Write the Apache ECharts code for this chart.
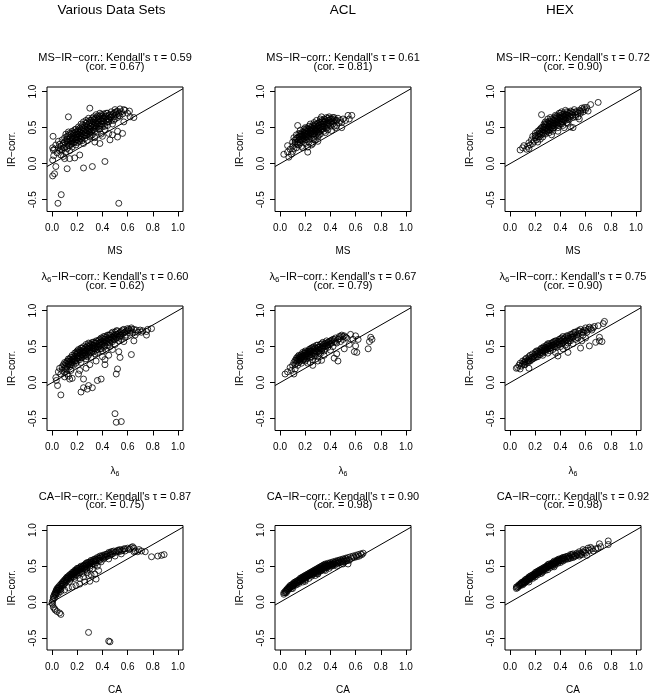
<!DOCTYPE html>
<html><head><meta charset="utf-8">
<script src="https://cdn.jsdelivr.net/npm/echarts@6/dist/echarts.min.js"></script>
<style>html,body{margin:0;padding:0;background:#fff}#c{width:652px;height:697px}</style>
</head><body><div id="c"></div><script>
const colHeaders = ['Various Data Sets', 'ACL', 'HEX'];
const rowVars = ['MS', 'λ6', 'CA'];
const tau = [[0.59, 0.61, 0.72], [0.60, 0.67, 0.75], [0.87, 0.90, 0.92]];
const cor = [[0.67, 0.81, 0.90], [0.62, 0.79, 0.90], [0.75, 0.98, 0.98]];
const xTicks = [0, 0.2, 0.4, 0.6, 0.8, 1.0];
const yTicks = [-0.5, 0, 0.5, 1.0];
const refLine = [[-0.04, -0.04], [1.04, 1.04]];

const msVarious = [
[0.047,-0.55],[0.073,-0.43],[0.53,-0.55],[0.42,0.03],[0.25,-0.06],[0.32,-0.04],[0.12,-0.07],[0.005,-0.17],[0.02,-0.14],[0.03,-0.04],[0.005,0.05],[0.013,0.11],[0.005,0.22],[0.01,0.19],[0.008,0.38],[0.13,0.65],[0.30,0.77],[0.62,0.65],[0.65,0.64],[0.615,0.73],[0.57,0.75],[0.56,0.42],[0.52,0.37],[0.46,0.33],[0.38,0.28],[0.18,0.08],[0.10,0.07],[0.14,0.07],[0.22,0.12],
[0.02,0.2],[0.03,0.26],[0.04,0.15],[0.05,0.22],[0.05,0.31],[0.06,0.18],[0.06,0.27],
[0.07,0.12],[0.07,0.24],[0.08,0.33],[0.08,0.19],[0.09,0.28],[0.09,0.1],[0.1,0.22],[0.1,0.36],[0.1,0.3],[0.11,0.41],
[0.11,0.16],[0.12,0.27],[0.12,0.34],[0.12,0.21],[0.13,0.39],[0.13,0.3],[0.13,0.44],[0.14,0.25],[0.14,0.35],[0.14,0.18],[0.15,0.31],[0.15,0.41],[0.15,0.37],
[0.16,0.28],[0.16,0.45],[0.16,0.23],[0.17,0.34],[0.17,0.39],[0.18,0.3],[0.18,0.43],[0.18,0.36],[0.19,0.26],[0.19,0.48],[0.19,0.4],[0.2,0.33],[0.2,0.37],[0.2,0.45],[0.2,0.29],
[0.21,0.41],[0.21,0.51],[0.21,0.36],[0.22,0.31],[0.22,0.44],[0.22,0.39],[0.23,0.47],[0.23,0.34],[0.23,0.55],[0.24,0.42],[0.24,0.37],[0.24,0.5],[0.25,0.45],[0.25,0.28],[0.25,0.4],[0.25,0.58],
[0.26,0.35],[0.26,0.48],[0.26,0.53],[0.27,0.43],[0.27,0.39],[0.27,0.6],[0.28,0.46],[0.28,0.51],[0.28,0.32],[0.29,0.55],[0.29,0.41],[0.29,0.63],[0.3,0.48],[0.3,0.37],[0.3,0.52],[0.3,0.57],
[0.31,0.44],[0.31,0.6],[0.32,0.5],[0.32,0.55],[0.32,0.4],[0.33,0.65],[0.33,0.47],[0.33,0.58],[0.34,0.53],[0.34,0.36],[0.34,0.62],[0.35,0.49],[0.35,0.56],[0.35,0.68],
[0.36,0.44],[0.36,0.6],[0.37,0.52],[0.37,0.65],[0.37,0.57],[0.38,0.48],[0.38,0.7],[0.38,0.62],[0.39,0.55],[0.39,0.41],[0.4,0.59],[0.4,0.66],[0.4,0.51],
[0.41,0.63],[0.41,0.69],[0.42,0.56],[0.42,0.47],[0.43,0.66],[0.43,0.6],[0.44,0.53],[0.44,0.7],[0.45,0.62],[0.45,0.58],[0.45,0.67],
[0.46,0.64],[0.47,0.72],[0.47,0.6],[0.48,0.68],[0.48,0.55],[0.49,0.65],[0.5,0.71],[0.5,0.62],[0.5,0.75],
[0.51,0.68],[0.52,0.73],[0.52,0.64],[0.53,0.7],[0.54,0.76],[0.54,0.66],[0.55,0.72],[0.56,0.69],
[0.34,0.3],[0.4,0.38],[0.45,0.42],[0.48,0.4],[0.52,0.45],[0.57,0.58],[0.6,0.7],[0.58,0.74],
[0.11,0.32],[0.12,0.38],[0.13,0.25],[0.14,0.42],[0.15,0.27],[0.16,0.33],[0.17,0.43],[0.17,0.29],[0.18,0.47],[0.19,0.33],[0.19,0.44],[0.2,0.41],[0.21,0.46],[0.21,0.31],[0.22,0.49],[0.22,0.35],[0.23,0.42],[0.24,0.53],[0.24,0.32],[0.25,0.49],[0.26,0.43],[0.26,0.39],[0.27,0.56],[0.27,0.47],[0.28,0.4],[0.28,0.58],[0.29,0.49],[0.29,0.45],[0.3,0.6],[0.3,0.43],[0.31,0.52],[0.31,0.39],[0.32,0.63],[0.32,0.46],[0.33,0.52],[0.33,0.61],[0.34,0.45],[0.34,0.57],[0.35,0.52],[0.35,0.63],[0.36,0.55],[0.36,0.66],[0.37,0.48],[0.37,0.61],[0.38,0.53],[0.38,0.66],[0.39,0.59],[0.39,0.68],[0.4,0.55],[0.4,0.63],[0.41,0.59],[0.42,0.65],[0.42,0.52],[0.43,0.7],[0.44,0.62],[0.44,0.58],[0.46,0.68],[0.47,0.65],[0.49,0.7],[0.49,0.6],[0.51,0.72],[0.53,0.67],[0.23,0.38],[0.19,0.36],[0.16,0.35],[0.14,0.31],[0.12,0.31],[0.09,0.22],[0.07,0.2]
];
const msACL = [
[0.03,0.13],[0.06,0.25],[0.07,0.09],[0.09,0.13],[0.06,0.16],[0.08,0.2],[0.1,0.17],[0.1,0.24],[0.1,0.3],[0.11,0.21],[0.11,0.36],[0.12,0.27],[0.12,0.33],[0.13,0.22],[0.13,0.4],[0.14,0.53],[0.14,0.3],[0.14,0.36],[0.15,0.26],[0.15,0.42],[0.15,0.33],[0.16,0.38],[0.16,0.29],[0.16,0.46],[0.17,0.34],[0.17,0.41],[0.17,0.24],[0.18,0.37],[0.18,0.44],[0.18,0.31],[0.19,0.4],[0.19,0.48],[0.19,0.35],[0.2,0.28],[0.2,0.43],[0.2,0.38],[0.2,0.5],[0.21,0.33],[0.21,0.45],[0.21,0.41],[0.22,0.16],[0.22,0.23],[0.22,0.37],[0.22,0.48],[0.23,0.43],[0.23,0.52],[0.23,0.3],[0.24,0.4],[0.24,0.46],[0.24,0.55],[0.25,0.35],[0.25,0.44],[0.25,0.5],[0.26,0.28],[0.26,0.41],[0.26,0.53],[0.27,0.47],[0.27,0.38],[0.27,0.57],[0.28,0.44],[0.28,0.5],[0.28,0.33],[0.29,0.54],[0.29,0.41],[0.29,0.6],[0.3,0.47],[0.3,0.52],[0.3,0.37],[0.31,0.44],[0.31,0.57],[0.32,0.5],[0.32,0.62],[0.32,0.41],[0.33,0.65],[0.33,0.55],[0.33,0.47],[0.34,0.52],[0.34,0.59],[0.35,0.45],[0.35,0.62],[0.35,0.55],[0.36,0.5],[0.36,0.58],[0.37,0.64],[0.37,0.53],[0.38,0.47],[0.38,0.6],[0.39,0.56],[0.39,0.65],[0.4,0.52],[0.4,0.62],[0.41,0.58],[0.41,0.46],[0.42,0.64],[0.42,0.55],[0.43,0.61],[0.43,0.64],[0.44,0.5],[0.45,0.53],[0.45,0.6],[0.47,0.57],[0.49,0.57],[0.49,0.5],[0.5,0.62],[0.52,0.6],[0.54,0.67],[0.57,0.67],[0.55,0.62],[0.36,0.43],[0.3,0.31],[0.25,0.26],[0.18,0.22],
[0.12,0.3],[0.13,0.35],[0.14,0.27],[0.15,0.37],[0.16,0.41],[0.16,0.33],[0.17,0.38],[0.18,0.4],[0.18,0.34],[0.19,0.43],[0.19,0.38],[0.2,0.46],[0.2,0.33],[0.21,0.38],[0.21,0.49],[0.22,0.41],[0.22,0.45],[0.23,0.39],[0.23,0.47],[0.24,0.43],[0.24,0.5],[0.25,0.47],[0.25,0.41],[0.26,0.45],[0.26,0.49],[0.27,0.42],[0.27,0.52],[0.28,0.47],[0.28,0.55],[0.29,0.45],[0.29,0.5],[0.3,0.56],[0.3,0.43],[0.31,0.5],[0.31,0.53],[0.32,0.46],[0.32,0.57],[0.33,0.51],[0.33,0.6],[0.34,0.55],[0.34,0.48],[0.35,0.58],[0.35,0.51],[0.36,0.61],[0.37,0.56],[0.37,0.49],[0.38,0.63],[0.38,0.54],[0.39,0.6],[0.4,0.57],[0.41,0.62],[0.42,0.59],[0.43,0.52],[0.44,0.6],[0.46,0.63],[0.48,0.6],[0.27,0.34],[0.23,0.35],[0.31,0.4]
];
const msHEX = [
[0.08,0.19],[0.1,0.22],[0.11,0.25],[0.13,0.2],[0.14,0.24],[0.15,0.21],[0.15,0.29],[0.16,0.26],[0.17,0.33],[0.18,0.38],[0.18,0.28],[0.19,0.31],[0.2,0.36],[0.2,0.42],[0.21,0.33],[0.21,0.39],[0.22,0.3],[0.22,0.45],[0.23,0.37],[0.23,0.42],[0.24,0.48],[0.24,0.34],[0.25,0.4],[0.25,0.45],[0.25,0.68],[0.26,0.51],[0.26,0.37],[0.26,0.43],[0.27,0.47],[0.27,0.55],[0.28,0.41],[0.28,0.5],[0.28,0.58],[0.29,0.45],[0.29,0.53],[0.3,0.48],[0.3,0.62],[0.3,0.56],[0.31,0.43],[0.31,0.51],[0.31,0.59],[0.32,0.54],[0.32,0.47],[0.32,0.64],[0.33,0.57],[0.33,0.5],[0.34,0.6],[0.34,0.53],[0.34,0.45],[0.35,0.56],[0.35,0.64],[0.35,0.5],[0.36,0.59],[0.36,0.67],[0.37,0.54],[0.37,0.62],[0.38,0.57],[0.38,0.65],[0.38,0.5],[0.39,0.6],[0.39,0.7],[0.4,0.55],[0.4,0.63],[0.4,0.67],[0.41,0.58],[0.41,0.72],[0.42,0.62],[0.42,0.66],[0.42,0.53],[0.43,0.69],[0.43,0.6],[0.44,0.64],[0.44,0.74],[0.45,0.57],[0.45,0.68],[0.46,0.71],[0.46,0.62],[0.47,0.66],[0.48,0.51],[0.48,0.73],[0.49,0.68],[0.5,0.64],[0.5,0.71],[0.5,0.5],[0.51,0.75],[0.52,0.68],[0.53,0.72],[0.54,0.65],[0.55,0.74],[0.56,0.7],[0.57,0.77],[0.58,0.72],[0.6,0.75],[0.61,0.78],[0.62,0.73],[0.64,0.82],[0.7,0.85],[0.43,0.5],[0.38,0.45],[0.33,0.4],[0.55,0.62],[0.46,0.56],
[0.2,0.39],[0.22,0.38],[0.23,0.46],[0.24,0.41],[0.25,0.5],[0.26,0.47],[0.27,0.42],[0.27,0.51],[0.28,0.46],[0.28,0.54],[0.29,0.49],[0.29,0.57],[0.3,0.52],[0.3,0.45],[0.31,0.55],[0.31,0.47],[0.32,0.58],[0.32,0.5],[0.33,0.53],[0.33,0.62],[0.34,0.56],[0.34,0.49],[0.35,0.6],[0.35,0.53],[0.36,0.63],[0.36,0.55],[0.37,0.58],[0.37,0.66],[0.38,0.61],[0.38,0.53],[0.39,0.64],[0.39,0.56],[0.4,0.6],[0.4,0.7],[0.41,0.65],[0.41,0.55],[0.42,0.69],[0.42,0.58],[0.43,0.64],[0.44,0.67],[0.44,0.6],[0.45,0.64],[0.45,0.72],[0.46,0.67],[0.47,0.7],[0.47,0.61],[0.48,0.65],[0.49,0.72],[0.5,0.67],[0.52,0.72],[0.52,0.65],[0.54,0.7],[0.56,0.73],[0.58,0.75],[0.59,0.78]
];
const l6Various = [
[0.05,0.15],[0.06,0.2],[0.07,0.12],[0.08,0.22],[0.08,0.17],[0.09,0.25],[0.1,0.14],[0.1,0.2],[0.1,0.28],
[0.11,0.23],[0.12,0.3],[0.12,0.18],[0.13,0.26],[0.13,0.33],[0.14,0.22],[0.14,0.29],[0.15,0.35],[0.15,0.25],[0.15,0.31],
[0.16,0.28],[0.16,0.38],[0.17,0.33],[0.17,0.24],[0.18,0.36],[0.18,0.3],[0.18,0.41],[0.19,0.27],[0.19,0.39],[0.2,0.34],[0.2,0.44],[0.2,0.3],[0.2,0.4],
[0.21,0.37],[0.21,0.46],[0.22,0.32],[0.22,0.42],[0.23,0.39],[0.23,0.48],[0.23,0.28],[0.24,0.44],[0.24,0.35],[0.25,0.41],[0.25,0.5],[0.25,0.46],
[0.26,0.38],[0.26,0.44],[0.27,0.49],[0.27,0.33],[0.27,0.53],[0.28,0.42],[0.28,0.47],[0.29,0.5],[0.29,0.38],[0.3,0.45],[0.3,0.54],[0.3,0.41],
[0.31,0.49],[0.31,0.35],[0.32,0.52],[0.32,0.44],[0.33,0.56],[0.33,0.47],[0.34,0.4],[0.34,0.51],[0.35,0.55],[0.35,0.45],[0.35,0.58],
[0.36,0.5],[0.36,0.42],[0.37,0.54],[0.37,0.59],[0.38,0.47],[0.38,0.56],[0.39,0.52],[0.39,0.62],[0.4,0.44],[0.4,0.57],[0.4,0.53],
[0.41,0.6],[0.41,0.49],[0.42,0.55],[0.42,0.64],[0.43,0.58],[0.43,0.45],[0.44,0.61],[0.44,0.52],[0.45,0.66],[0.45,0.56],
[0.46,0.6],[0.46,0.5],[0.47,0.63],[0.47,0.68],[0.48,0.57],[0.48,0.46],[0.49,0.65],[0.5,0.6],[0.5,0.7],[0.5,0.53],
[0.51,0.67],[0.52,0.63],[0.52,0.72],[0.53,0.58],[0.53,0.68],[0.54,0.65],[0.55,0.71],[0.55,0.6],
[0.56,0.68],[0.57,0.74],[0.58,0.63],[0.58,0.7],[0.59,0.66],[0.6,0.72],[0.6,0.75],
[0.62,0.69],[0.63,0.74],[0.63,0.76],[0.64,0.7],[0.66,0.66],[0.68,0.7],[0.7,0.73],[0.72,0.72],[0.76,0.74],[0.75,0.71],
[0.03,0.07],[0.034,0.03],[0.044,-0.04],[0.07,-0.17],[0.23,-0.13],[0.25,-0.07],[0.28,-0.09],[0.29,-0.04],[0.32,-0.07],[0.36,0.03],[0.39,0.05],[0.25,0.05],[0.21,0.12],[0.13,0.09],[0.14,0.05],[0.16,0.06],[0.15,0.17],[0.22,0.17],[0.42,0.25],[0.42,0.32],[0.51,0.12],[0.52,0.19],[0.54,0.35],[0.53,0.43],[0.63,0.39],[0.5,-0.43],[0.51,-0.55],[0.55,-0.54],[0.79,0.75],[0.71,0.7],[0.75,0.66],[0.65,0.58],[0.57,0.57],[0.49,0.63],[0.4,0.36],[0.45,0.38],[0.35,0.3],[0.3,0.25],[0.27,0.2],[0.1,0.08],[0.12,0.12],
[0.1,0.24],[0.11,0.19],[0.11,0.27],[0.12,0.22],[0.13,0.3],[0.14,0.25],[0.14,0.33],[0.15,0.28],[0.16,0.32],[0.16,0.25],[0.17,0.36],[0.17,0.3],[0.18,0.33],[0.19,0.42],[0.19,0.31],[0.2,0.37],[0.21,0.34],[0.21,0.42],[0.22,0.45],[0.22,0.37],[0.23,0.35],[0.23,0.43],[0.24,0.39],[0.24,0.48],[0.25,0.37],[0.25,0.43],[0.26,0.47],[0.26,0.41],[0.27,0.44],[0.27,0.38],[0.28,0.51],[0.28,0.36],[0.29,0.44],[0.29,0.55],[0.3,0.48],[0.3,0.51],[0.31,0.42],[0.31,0.53],[0.32,0.48],[0.32,0.56],[0.33,0.43],[0.33,0.52],[0.34,0.55],[0.34,0.47],[0.35,0.5],[0.36,0.57],[0.36,0.46],[0.37,0.5],[0.38,0.6],[0.38,0.52],[0.39,0.57],[0.39,0.47],[0.4,0.61],[0.41,0.56],[0.41,0.64],[0.42,0.51],[0.42,0.6],[0.43,0.63],[0.44,0.57],[0.44,0.66],[0.45,0.61],[0.46,0.55],[0.46,0.66],[0.47,0.59],[0.48,0.63],[0.48,0.7],[0.49,0.6],[0.5,0.66],[0.51,0.62],[0.51,0.72],[0.52,0.67],[0.53,0.63],[0.54,0.7],[0.55,0.66],[0.56,0.73],[0.57,0.69],[0.59,0.72],[0.61,0.74],[0.62,0.72],[0.65,0.74],[0.67,0.73]
];
const l6ACL = [
[0.04,0.12],[0.06,0.15],[0.08,0.21],[0.11,0.12],[0.12,0.19],[0.09,0.17],[0.1,0.24],[0.11,0.28],[0.12,0.25],[0.12,0.31],[0.13,0.27],[0.13,0.34],[0.14,0.3],[0.14,0.36],[0.14,0.24],[0.15,0.32],[0.15,0.38],[0.15,0.28],[0.16,0.34],[0.16,0.3],[0.16,0.37],[0.17,0.33],[0.17,0.27],[0.17,0.39],[0.18,0.31],[0.18,0.36],[0.18,0.42],[0.19,0.34],[0.19,0.38],[0.2,0.3],[0.2,0.36],[0.2,0.44],[0.21,0.4],[0.21,0.33],[0.22,0.37],[0.22,0.43],[0.22,0.27],[0.23,0.41],[0.23,0.46],[0.24,0.35],[0.24,0.28],[0.24,0.44],[0.25,0.39],[0.25,0.48],[0.26,0.24],[0.26,0.42],[0.26,0.46],[0.27,0.37],[0.27,0.5],[0.28,0.44],[0.28,0.4],[0.29,0.47],[0.29,0.52],[0.3,0.43],[0.3,0.36],[0.31,0.49],[0.31,0.45],[0.32,0.53],[0.32,0.4],[0.33,0.31],[0.33,0.47],[0.34,0.51],[0.34,0.56],[0.35,0.44],[0.35,0.5],[0.36,0.54],[0.36,0.47],[0.37,0.58],[0.37,0.52],[0.38,0.49],[0.38,0.56],[0.39,0.53],[0.4,0.58],[0.4,0.45],[0.41,0.55],[0.42,0.6],[0.42,0.5],[0.43,0.34],[0.43,0.57],[0.44,0.62],[0.45,0.4],[0.45,0.55],[0.46,0.3],[0.46,0.6],[0.47,0.64],[0.48,0.57],[0.49,0.66],[0.5,0.6],[0.51,0.65],[0.51,0.47],[0.53,0.62],[0.55,0.53],[0.56,0.67],[0.58,0.6],[0.59,0.43],[0.6,0.51],[0.61,0.42],[0.62,0.6],[0.6,0.65],[0.7,0.47],[0.71,0.57],[0.72,0.63],[0.73,0.6],[0.26,0.32],[0.3,0.3],[0.35,0.38],
[0.13,0.31],[0.14,0.33],[0.15,0.35],[0.16,0.32],[0.17,0.36],[0.18,0.38],[0.19,0.32],[0.19,0.41],[0.2,0.38],[0.2,0.41],[0.21,0.36],[0.21,0.43],[0.22,0.4],[0.23,0.38],[0.23,0.44],[0.24,0.42],[0.24,0.47],[0.25,0.44],[0.25,0.36],[0.26,0.49],[0.27,0.44],[0.27,0.41],[0.28,0.48],[0.28,0.37],[0.29,0.43],[0.3,0.49],[0.3,0.52],[0.31,0.41],[0.32,0.47],[0.32,0.5],[0.33,0.54],[0.33,0.44],[0.34,0.48],[0.35,0.54],[0.36,0.51],[0.37,0.55],[0.38,0.52],[0.39,0.57],[0.4,0.54],[0.41,0.59],[0.43,0.6],[0.44,0.56],[0.47,0.61],[0.48,0.64],[0.5,0.64],[0.52,0.63]
];
const l6HEX = [
[0.05,0.2],[0.06,0.21],[0.07,0.24],[0.08,0.19],[0.08,0.27],[0.09,0.23],[0.1,0.26],[0.1,0.3],[0.11,0.28],[0.12,0.25],[0.12,0.32],[0.13,0.29],[0.13,0.34],[0.14,0.31],[0.15,0.2],[0.15,0.36],[0.15,0.33],[0.16,0.3],[0.16,0.38],[0.17,0.35],[0.18,0.33],[0.18,0.4],[0.19,0.37],[0.2,0.35],[0.2,0.42],[0.21,0.39],[0.21,0.44],[0.22,0.36],[0.22,0.41],[0.23,0.43],[0.24,0.39],[0.24,0.46],[0.25,0.42],[0.25,0.48],[0.26,0.44],[0.26,0.38],[0.27,0.47],[0.27,0.5],[0.28,0.43],[0.28,0.49],[0.29,0.46],[0.29,0.52],[0.3,0.41],[0.3,0.5],[0.31,0.47],[0.31,0.54],[0.32,0.51],[0.32,0.44],[0.33,0.49],[0.33,0.55],[0.34,0.52],[0.34,0.46],[0.35,0.57],[0.35,0.5],[0.36,0.42],[0.36,0.54],[0.37,0.58],[0.37,0.49],[0.38,0.37],[0.38,0.53],[0.39,0.6],[0.39,0.56],[0.4,0.5],[0.4,0.58],[0.41,0.62],[0.41,0.54],[0.42,0.47],[0.42,0.6],[0.43,0.57],[0.44,0.63],[0.44,0.52],[0.45,0.59],[0.46,0.42],[0.46,0.65],[0.46,0.55],[0.47,0.61],[0.48,0.67],[0.48,0.58],[0.49,0.63],[0.5,0.54],[0.5,0.68],[0.51,0.65],[0.52,0.6],[0.52,0.7],[0.53,0.66],[0.54,0.72],[0.54,0.62],[0.55,0.68],[0.56,0.48],[0.56,0.74],[0.57,0.58],[0.57,0.7],[0.58,0.66],[0.59,0.73],[0.6,0.76],[0.61,0.7],[0.62,0.74],[0.63,0.51],[0.63,0.77],[0.65,0.73],[0.66,0.76],[0.68,0.56],[0.7,0.79],[0.71,0.58],[0.71,0.63],[0.73,0.57],[0.74,0.82],[0.75,0.85],[0.6,0.62],[0.45,0.5],
[0.11,0.25],[0.12,0.29],[0.14,0.28],[0.15,0.3],[0.17,0.32],[0.18,0.36],[0.19,0.34],[0.2,0.39],[0.21,0.36],[0.22,0.44],[0.23,0.39],[0.24,0.42],[0.25,0.45],[0.26,0.41],[0.26,0.48],[0.27,0.44],[0.28,0.46],[0.29,0.49],[0.3,0.47],[0.3,0.54],[0.31,0.51],[0.32,0.48],[0.33,0.52],[0.34,0.56],[0.35,0.53],[0.36,0.5],[0.36,0.58],[0.37,0.55],[0.38,0.57],[0.39,0.53],[0.4,0.61],[0.41,0.58],[0.42,0.55],[0.42,0.64],[0.43,0.61],[0.44,0.58],[0.45,0.65],[0.46,0.62],[0.47,0.58],[0.48,0.63],[0.49,0.67],[0.5,0.63],[0.51,0.7],[0.53,0.63],[0.55,0.72],[0.58,0.7],[0.6,0.72],[0.64,0.75],[0.67,0.78]
];
const caVarious = [
[0.0,-0.01],[0.005,0.02],[0.01,0.04],[0.01,0.07],[0.015,0.09],[0.02,0.06],[0.02,0.11],[0.025,0.13],[0.03,0.1],[0.03,0.15],[0.035,0.17],[0.04,0.13],[0.04,0.19],[0.05,0.17],[0.05,0.21],[0.06,0.2],[0.06,0.23],[0.07,0.18],[0.07,0.25],[0.08,0.22],[0.08,0.27],[0.09,0.24],[0.09,0.29],[0.1,0.26],[0.1,0.31],[0.11,0.28],[0.11,0.33],[0.12,0.3],[0.12,0.35],[0.13,0.32],[0.13,0.36],[0.14,0.29],[0.14,0.38],[0.15,0.34],[0.15,0.39],[0.16,0.36],[0.16,0.41],[0.17,0.38],[0.17,0.42],[0.18,0.33],[0.18,0.4],[0.18,0.44],[0.19,0.41],[0.19,0.45],[0.2,0.37],[0.2,0.43],[0.2,0.47],[0.21,0.44],[0.22,0.41],[0.22,0.48],[0.23,0.46],[0.23,0.5],[0.24,0.43],[0.24,0.49],[0.25,0.51],[0.25,0.47],[0.26,0.45],[0.26,0.52],[0.27,0.5],[0.27,0.54],[0.28,0.41],[0.28,0.48],[0.28,0.55],[0.29,0.52],[0.3,0.56],[0.3,0.5],[0.31,0.54],[0.31,0.58],[0.32,0.46],[0.32,0.56],[0.33,0.59],[0.33,0.53],[0.34,0.57],[0.35,0.6],[0.35,0.55],[0.36,0.5],[0.36,0.62],[0.37,0.58],[0.38,0.61],[0.38,0.64],[0.39,0.56],[0.4,0.62],[0.4,0.65],[0.41,0.6],[0.42,0.66],[0.43,0.63],[0.44,0.67],[0.45,0.6],[0.45,0.69],[0.46,0.65],[0.47,0.7],[0.48,0.67],[0.49,0.71],[0.5,0.64],[0.5,0.69],[0.52,0.72],[0.53,0.7],[0.54,0.73],[0.55,0.67],[0.56,0.72],[0.57,0.74],[0.58,0.71],[0.6,0.75],[0.62,0.74],[0.64,0.77],[0.65,0.75],[0.66,0.71],[0.68,0.7],[0.69,0.73],
[0.05,0.12],[0.07,0.15],[0.1,0.17],[0.13,0.2],[0.16,0.21],[0.19,0.23],[0.22,0.25],[0.26,0.28],[0.3,0.29],[0.35,0.32],[0.37,0.44],[0.34,0.39],[0.31,0.38],[0.29,0.37],[0.25,0.35],[0.22,0.33],
[0.005,-0.03],[0.01,-0.07],[0.02,-0.09],[0.026,-0.11],[0.04,-0.13],[0.06,-0.15],[0.07,-0.17],
[0.29,-0.42],[0.45,-0.54],[0.46,-0.55],[0.79,0.63],[0.84,0.64],[0.87,0.65],[0.89,0.66],[0.74,0.7],[0.71,0.71],[0.65,0.7],
[0.03,0.12],[0.04,0.16],[0.05,0.19],[0.06,0.17],[0.07,0.22],[0.08,0.25],[0.09,0.27],[0.1,0.29],[0.11,0.31],[0.12,0.33],[0.13,0.34],[0.14,0.35],[0.15,0.37],[0.16,0.39],[0.17,0.4],[0.18,0.42],[0.19,0.43],[0.2,0.45],[0.21,0.47],[0.21,0.41],[0.22,0.45],[0.23,0.48],[0.24,0.46],[0.25,0.5],[0.26,0.49],[0.27,0.52],[0.28,0.52],[0.29,0.55],[0.3,0.53],[0.31,0.56],[0.32,0.53],[0.33,0.57],[0.34,0.6],[0.35,0.58],[0.36,0.59],[0.37,0.61],[0.38,0.58],[0.39,0.63],[0.41,0.64],[0.42,0.62],[0.43,0.66],[0.44,0.64],[0.46,0.68],[0.47,0.66],[0.48,0.7],[0.51,0.7],[0.53,0.72],[0.55,0.71],[0.58,0.74],[0.61,0.73],[0.63,0.76],[0.15,0.32],[0.17,0.35],[0.19,0.38],[0.24,0.4],[0.27,0.46],[0.3,0.47],[0.34,0.52]
];
const caACL = [
[0.03,0.11],[0.03,0.13],[0.04,0.15],[0.05,0.13],[0.05,0.17],[0.06,0.16],[0.06,0.19],[0.07,0.18],[0.07,0.21],[0.08,0.2],[0.08,0.23],[0.09,0.19],[0.09,0.24],[0.1,0.22],[0.1,0.25],[0.11,0.23],[0.11,0.27],[0.12,0.25],[0.12,0.28],[0.13,0.24],[0.13,0.29],[0.14,0.27],[0.14,0.3],[0.15,0.26],[0.15,0.31],[0.16,0.29],[0.16,0.33],[0.17,0.3],[0.17,0.34],[0.18,0.28],[0.18,0.32],[0.18,0.35],[0.19,0.33],[0.19,0.36],[0.2,0.31],[0.2,0.35],[0.2,0.37],[0.21,0.34],[0.21,0.38],[0.22,0.36],[0.22,0.39],[0.23,0.33],[0.23,0.37],[0.23,0.4],[0.24,0.38],[0.24,0.41],[0.25,0.36],[0.25,0.4],[0.25,0.42],[0.26,0.39],[0.26,0.43],[0.27,0.41],[0.27,0.44],[0.28,0.37],[0.28,0.42],[0.28,0.45],[0.29,0.43],[0.29,0.46],[0.3,0.4],[0.3,0.44],[0.3,0.47],[0.31,0.45],[0.31,0.48],[0.32,0.43],[0.32,0.47],[0.32,0.49],[0.33,0.46],[0.33,0.5],[0.34,0.48],[0.34,0.51],[0.35,0.45],[0.35,0.49],[0.35,0.52],[0.36,0.5],[0.36,0.53],[0.37,0.48],[0.37,0.52],[0.38,0.51],[0.38,0.54],[0.39,0.47],[0.39,0.53],[0.4,0.52],[0.4,0.55],[0.41,0.5],[0.41,0.54],[0.42,0.53],[0.42,0.56],[0.43,0.55],[0.44,0.52],[0.44,0.57],[0.45,0.56],[0.46,0.54],[0.46,0.58],[0.47,0.57],[0.48,0.55],[0.48,0.59],[0.49,0.58],[0.5,0.56],[0.5,0.6],[0.51,0.59],[0.52,0.57],[0.52,0.61],[0.53,0.6],[0.54,0.53],[0.54,0.62],[0.55,0.58],[0.56,0.63],[0.57,0.61],[0.58,0.64],[0.59,0.62],[0.6,0.65],[0.61,0.63],[0.62,0.66],[0.63,0.64],[0.64,0.67],[0.65,0.66],[0.66,0.68],[0.1,0.19],[0.2,0.29],[0.3,0.39],[0.36,0.44],[0.45,0.5],[0.5,0.53],
[0.04,0.13],[0.05,0.15],[0.06,0.18],[0.07,0.19],[0.08,0.21],[0.09,0.22],[0.1,0.23],[0.11,0.25],[0.12,0.26],[0.13,0.27],[0.14,0.28],[0.15,0.29],[0.16,0.31],[0.17,0.32],[0.18,0.33],[0.19,0.34],[0.2,0.33],[0.21,0.36],[0.22,0.37],[0.23,0.38],[0.24,0.39],[0.25,0.38],[0.26,0.41],[0.27,0.39],[0.27,0.42],[0.28,0.43],[0.29,0.41],[0.29,0.44],[0.3,0.42],[0.31,0.46],[0.31,0.43],[0.32,0.45],[0.33,0.48],[0.33,0.44],[0.34,0.46],[0.35,0.47],[0.36,0.48],[0.36,0.51],[0.37,0.5],[0.38,0.49],[0.39,0.51],[0.4,0.5],[0.41,0.52],[0.42,0.51],[0.43,0.53],[0.44,0.55],[0.45,0.54],[0.47,0.55],[0.49,0.56],[0.51,0.57],[0.53,0.58]
];
const caHEX = [
[0.05,0.19],[0.05,0.21],[0.06,0.2],[0.07,0.22],[0.07,0.24],[0.08,0.23],[0.09,0.25],[0.09,0.27],[0.1,0.24],[0.1,0.28],[0.11,0.26],[0.11,0.29],[0.12,0.27],[0.12,0.31],[0.13,0.29],[0.13,0.32],[0.14,0.3],[0.14,0.33],[0.15,0.31],[0.15,0.35],[0.16,0.33],[0.16,0.36],[0.17,0.34],[0.17,0.37],[0.18,0.33],[0.18,0.38],[0.19,0.36],[0.19,0.39],[0.2,0.35],[0.2,0.38],[0.2,0.41],[0.21,0.39],[0.21,0.42],[0.22,0.38],[0.22,0.43],[0.23,0.41],[0.23,0.44],[0.24,0.4],[0.24,0.45],[0.25,0.43],[0.25,0.46],[0.26,0.42],[0.26,0.47],[0.27,0.45],[0.27,0.48],[0.28,0.44],[0.28,0.49],[0.29,0.47],[0.29,0.5],[0.3,0.45],[0.3,0.49],[0.3,0.52],[0.31,0.5],[0.31,0.53],[0.32,0.48],[0.32,0.52],[0.33,0.51],[0.33,0.54],[0.34,0.5],[0.34,0.55],[0.35,0.53],[0.35,0.57],[0.36,0.52],[0.36,0.56],[0.37,0.55],[0.37,0.58],[0.38,0.54],[0.38,0.59],[0.39,0.57],[0.39,0.6],[0.4,0.55],[0.4,0.59],[0.41,0.58],[0.41,0.61],[0.42,0.57],[0.42,0.62],[0.43,0.6],[0.44,0.59],[0.44,0.63],[0.45,0.61],[0.46,0.6],[0.46,0.64],[0.47,0.63],[0.48,0.61],[0.48,0.66],[0.49,0.64],[0.5,0.62],[0.5,0.67],[0.51,0.65],[0.52,0.64],[0.53,0.68],[0.54,0.66],[0.55,0.64],[0.55,0.7],[0.56,0.68],[0.57,0.66],[0.58,0.7],[0.58,0.73],[0.6,0.68],[0.6,0.72],[0.61,0.65],[0.62,0.75],[0.63,0.72],[0.64,0.76],[0.65,0.74],[0.66,0.71],[0.68,0.74],[0.7,0.75],[0.71,0.81],[0.72,0.77],[0.78,0.8],[0.78,0.85],[0.15,0.28],[0.25,0.4],[0.35,0.49],
[0.06,0.22],[0.08,0.25],[0.09,0.26],[0.1,0.26],[0.11,0.28],[0.12,0.29],[0.13,0.3],[0.14,0.32],[0.15,0.33],[0.16,0.34],[0.17,0.35],[0.18,0.36],[0.19,0.37],[0.2,0.39],[0.21,0.4],[0.22,0.41],[0.23,0.42],[0.24,0.43],[0.25,0.44],[0.26,0.45],[0.27,0.46],[0.28,0.47],[0.29,0.48],[0.3,0.5],[0.31,0.51],[0.32,0.5],[0.33,0.52],[0.34,0.53],[0.35,0.55],[0.36,0.54],[0.37,0.56],[0.38,0.57],[0.39,0.58],[0.4,0.57],[0.41,0.6],[0.42,0.6],[0.43,0.62],[0.45,0.63],[0.47,0.61],[0.49,0.66],[0.51,0.63],[0.53,0.66],[0.56,0.66],[0.59,0.69]
];

const panels = [[msVarious, msACL, msHEX], [l6Various, l6ACL, l6HEX], [caVarious, caACL, caHEX]];

// layout (pixels)
const colLeft = [47, 275, 505];
const rowTop = [87, 306, 525.5];
const boxW = 136, boxH = 124.5;
const headerX = [111.5, 343, 560];
const FONT = '"Liberation Sans", Arial, Helvetica, sans-serif';

const chart = echarts.init(document.getElementById('c'), null, {renderer: 'canvas'});
const grids = [], xAxes = [], yAxes = [], series = [], graphics = [];

colHeaders.forEach((h, c) => {
  graphics.push({type: 'text', x: headerX[c], y: 10, style: {text: h, font: '13.5px ' + FONT, fill: '#000', textAlign: 'center', textVerticalAlign: 'middle'}});
});

for (let r = 0; r < 3; r++) {
  for (let c = 0; c < 3; c++) {
    const i = r * 3 + c;
    const v = rowVars[r];
    grids.push({left: colLeft[c], top: rowTop[r], width: boxW, height: boxH, show: true, borderColor: '#000', borderWidth: 1, backgroundColor: 'transparent'});
    const nameRich = {
      l: {fontSize: 10, fontFamily: FONT, color: '#000', lineHeight: 12, verticalAlign: 'middle'},
      s: {fontSize: 7, fontFamily: FONT, color: '#000', lineHeight: 12, padding: [5, 0, 0, 0]}
    };
    xAxes.push({
      gridIndex: i, type: 'value', min: -0.04, max: 1.04,
      axisLine: {show: false, onZero: false},
      axisTick: {show: true, inside: false, length: 5, customValues: xTicks, lineStyle: {color: '#000', width: 1}},
      axisLabel: {customValues: xTicks, formatter: (val) => val.toFixed(1), margin: 12, fontSize: 10, fontFamily: FONT, color: '#000'},
      splitLine: {show: false},
      name: v === 'λ6' ? '{l|λ}{s|6}' : v, nameLocation: 'middle', nameGap: 35,
      nameTextStyle: {fontSize: 10, fontFamily: FONT, color: '#000', rich: nameRich}
    });
    yAxes.push({
      gridIndex: i, type: 'value', min: -0.664, max: 1.064,
      axisLine: {show: false, onZero: false},
      axisTick: {show: true, inside: false, length: 5, customValues: yTicks, lineStyle: {color: '#000', width: 1}},
      axisLabel: {customValues: yTicks, formatter: (val) => val.toFixed(1), margin: 9, rotate: 90, fontSize: 10, fontFamily: FONT, color: '#000'},
      splitLine: {show: false},
      name: 'IR\u2212corr.', nameLocation: 'middle', nameGap: 30,
      nameTextStyle: {fontSize: 10, fontFamily: FONT, color: '#000'}
    });
    series.push({
      type: 'scatter', xAxisIndex: i, yAxisIndex: i, data: panels[r][c],
      symbol: 'circle', symbolSize: 6, silent: true,
      itemStyle: {color: 'rgba(0,0,0,0)', borderColor: '#000', borderWidth: 1},
      emphasis: {disabled: true}
    });
    series.push({
      type: 'line', xAxisIndex: i, yAxisIndex: i, data: refLine, showSymbol: false, silent: true, clip: true,
      lineStyle: {color: '#000', width: 1}
    });
    const cx = colLeft[c] + boxW / 2;
    const t1 = (v === 'λ6' ? '{l|λ}{s|6}' : v) + '\u2212IR\u2212corr.: Kendall\'s τ = ' + tau[r][c].toFixed(2);
    graphics.push({type: 'text', x: cx, y: rowTop[r] - 29, style: {
      text: t1, font: '11px ' + FONT, fill: '#000', textAlign: 'center', textVerticalAlign: 'middle',
      rich: {l: {fontSize: 11, fontFamily: FONT, fill: '#000'}, s: {fontSize: 8, fontFamily: FONT, fill: '#000', padding: [5, 0, 0, 0]}}
    }});
    graphics.push({type: 'text', x: cx, y: rowTop[r] - 20.5, style: {
      text: '(cor. = ' + cor[r][c].toFixed(2) + ')', font: '11px ' + FONT, fill: '#000', textAlign: 'center', textVerticalAlign: 'middle'
    }});
  }
}

chart.setOption({
  animation: false,
  backgroundColor: '#fff',
  grid: grids, xAxis: xAxes, yAxis: yAxes, series: series,
  graphic: graphics
});
</script></body></html>
